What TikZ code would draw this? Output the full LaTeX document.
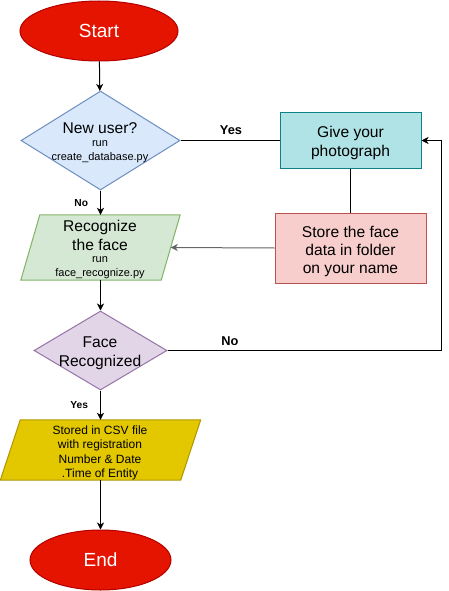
\documentclass[tikz,border=0pt]{standalone}
\usepackage{fontspec}
\setmainfont{Liberation Sans}
\usetikzlibrary{shapes.geometric,arrows.meta}
\definecolor{redF}{HTML}{E51400}\definecolor{redD}{HTML}{B20000}
\definecolor{bluF}{HTML}{DAE8FC}\definecolor{bluD}{HTML}{6C8EBF}
\definecolor{tealF}{HTML}{B0E3E6}\definecolor{tealD}{HTML}{0E8088}
\definecolor{pinkF}{HTML}{F8CECC}\definecolor{pinkD}{HTML}{B85450}
\definecolor{grnF}{HTML}{D5E8D4}\definecolor{grnD}{HTML}{82B366}
\definecolor{purF}{HTML}{E1D5E7}\definecolor{purD}{HTML}{9673A6}
\definecolor{yelF}{HTML}{E3C800}\definecolor{yelD}{HTML}{B09500}
\definecolor{greyline}{HTML}{666666}
\tikzset{
  base/.style={inner sep=0pt, line width=1pt},
  terminal/.style={base, ellipse, fill=redF, draw=redD, text=white, font=\fontsize{19}{22}\selectfont},
  decision/.style={base, diamond},
  procbox/.style={base, rectangle},
  iobody/.style={inner sep=0pt, rectangle},
  bigtxt/.style={inner sep=0pt, align=center, font=\fontsize{15.6}{18.3}\selectfont},
  smalltxt/.style={inner sep=0pt, align=center, font=\fontsize{11}{14}\selectfont},
  lbl/.style={inner sep=0pt, font=\bfseries\fontsize{12.8}{15}\selectfont},
  slbl/.style={inner sep=0pt, font=\bfseries\fontsize{10.2}{12}\selectfont},
  conn/.style={line width=1pt},
  arr/.style={conn, -{Stealth[length=7pt,width=7pt,inset=2pt]}},
}
\begin{document}
\begin{tikzpicture}[x=1pt,y=-1pt]
\useasboundingbox (0,0) rectangle (449,591);
% shapes
\node[terminal, minimum width=158pt, minimum height=60pt] (start) at (99,31) {Start};
\node[decision, fill=bluF, draw=bluD, minimum width=159pt, minimum height=99pt] (newuser) at (100.5,140.5) {};
\node[procbox, fill=tealF, draw=tealD, minimum width=141pt, minimum height=55pt] (photo) at (350.5,140.5) {};
\node[procbox, fill=pinkF, draw=pinkD, minimum width=151pt, minimum height=70pt] (store) at (350.5,248) {};
\node[iobody, minimum width=140pt, minimum height=65pt] (recog) at (100.5,247.5) {};
\draw[base, fill=grnF, draw=grnD] ([xshift=-9.5pt]recog.south west) -- ([xshift=9.5pt]recog.north west) -- ([xshift=9.5pt]recog.north east) -- ([xshift=-9.5pt]recog.south east) -- cycle;
\node[decision, fill=purF, draw=purD, minimum width=133pt, minimum height=79pt] (face) at (100.5,350.5) {};
\node[iobody, minimum width=180pt, minimum height=60pt] (csv) at (100.5,450) {};
\draw[base, fill=yelF, draw=yelD] ([xshift=-10pt]csv.south west) -- ([xshift=10pt]csv.north west) -- ([xshift=10pt]csv.north east) -- ([xshift=-10pt]csv.south east) -- cycle;
\node[terminal, minimum width=141pt, minimum height=60pt] (end) at (100.5,560) {End};
% texts
\node[bigtxt] (nu-t) at (100,128) {New user?};
\node[smalltxt] (nu-s) at (100,151.5) {run\\create\_database.py};
\node[bigtxt, font=\fontsize{15.6}{19}\selectfont] (ph-t) at (350.5,143) {Give your\\photograph};
\node[bigtxt, font=\fontsize{15.6}{18}\selectfont] (st-t) at (350.5,251) {Store the face\\data in folder\\on your name};
\node[bigtxt] (rc-t) at (100,235.5) {Recognize\\the face};
\node[smalltxt] (rc-s) at (100,268) {run\\face\_recognize.py};
\node[bigtxt, font=\fontsize{15.6}{18.6}\selectfont] (fc-t) at (100,353.5) {Face\\Recognized};
\node[inner sep=0pt, align=center, font=\fontsize{12}{14.5}\selectfont] (csv-t) at (100,453) {Stored in CSV file\\with registration\\Number \& Date\\.Time of Entity};
% connectors
\coordinate (loopA) at (441,350.5);
\coordinate (loopB) at (441,140.5);
\draw[arr] (start) -- (newuser);
\draw[conn] (newuser.east) -- (photo.west) node[lbl, pos=0.51, above=5pt] (yes1) {Yes};
\draw[conn] (photo) -- (store);
\draw[arr, greyline] (store.west) -- (recog.east);
\draw[arr] (newuser.south) -- (recog.north) node[slbl, midway, left=12pt] (no1) {No};
\draw[arr] (recog.south) -- (face.north);
\draw[arr] (face.east) -- (loopA) -- (loopB) -- (photo.east);
\node[lbl] (no2) at (230,341) {No};
\draw[arr] (face.south) -- (csv.north) node[slbl, midway, left=12pt] (yes2) {Yes};
\draw[arr] (csv.south) -- (end.north);
\end{tikzpicture}
\end{document}
